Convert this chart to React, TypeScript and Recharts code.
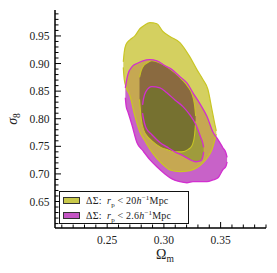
import React from "react";
import { ComposedChart, Area, XAxis, YAxis } from "recharts";

// Contour outlines: for each Omega_m, the sigma_8 range [lo, hi]
const magentaOuterX = [0.2660, 0.2668, 0.2682, 0.2718, 0.2762, 0.2815, 0.2876, 0.2938, 0.3009, 0.3071, 0.3141, 0.3203, 0.3256, 0.3318, 0.3380, 0.3432, 0.3477, 0.3521, 0.3547, 0.3557];
const magentaOuterLo = [0.838, 0.822, 0.813, 0.789, 0.757, 0.742, 0.726, 0.713, 0.700, 0.691, 0.686, 0.684, 0.686, 0.686, 0.686, 0.689, 0.693, 0.708, 0.714, 0.722];
const magentaOuterHi = [0.856, 0.866, 0.880, 0.894, 0.900, 0.905, 0.907, 0.905, 0.896, 0.889, 0.876, 0.865, 0.847, 0.827, 0.804, 0.776, 0.762, 0.747, 0.738, 0.730];

const magentaInnerX = [0.2812, 0.2820, 0.2841, 0.2894, 0.2965, 0.3026, 0.3097, 0.3168, 0.3229, 0.3282, 0.3327, 0.3344, 0.3350];
const magentaInnerLo = [0.810, 0.800, 0.784, 0.771, 0.757, 0.749, 0.740, 0.733, 0.726, 0.722, 0.724, 0.732, 0.740];
const magentaInnerHi = [0.825, 0.836, 0.849, 0.858, 0.856, 0.847, 0.834, 0.822, 0.807, 0.789, 0.765, 0.755, 0.748];

const oliveOuterX = [0.2642, 0.2650, 0.2665, 0.2700, 0.2744, 0.2788, 0.2832, 0.2876, 0.2938, 0.2991, 0.3053, 0.3141, 0.3229, 0.3291, 0.3344, 0.3388, 0.3424, 0.3450, 0.3462];
const oliveOuterLo = [0.893, 0.872, 0.858, 0.842, 0.805, 0.776, 0.760, 0.745, 0.728, 0.717, 0.707, 0.704, 0.706, 0.711, 0.720, 0.731, 0.744, 0.762, 0.772];
const oliveOuterHi = [0.903, 0.920, 0.934, 0.943, 0.950, 0.963, 0.970, 0.974, 0.972, 0.958, 0.949, 0.938, 0.912, 0.889, 0.871, 0.853, 0.816, 0.789, 0.778];

const oliveInnerX = [0.2785, 0.2800, 0.2825, 0.2850, 0.2894, 0.2965, 0.3026, 0.3097, 0.3159, 0.3212, 0.3247, 0.3270, 0.3280];
const oliveInnerLo = [0.835, 0.800, 0.778, 0.769, 0.760, 0.749, 0.744, 0.740, 0.740, 0.744, 0.751, 0.770, 0.795];
const oliveInnerHi = [0.875, 0.887, 0.897, 0.901, 0.905, 0.901, 0.894, 0.883, 0.871, 0.858, 0.845, 0.825, 0.805];

// axes
const xMajorTicks = [0.25, 0.3, 0.35];
const yMajorTicks = [0.65, 0.7, 0.75, 0.8, 0.85, 0.9, 0.95];
const xTicks = Array.from({ length: 19 }, (_, i) => +(0.21 + i * 0.01).toFixed(2));
const yTicks = Array.from({ length: 39 }, (_, i) => +(0.61 + i * 0.01).toFixed(2));

const legendLabels = ["20", "2.6"];

const contours = [
  { key: "magentaOuter", x: magentaOuterX, lo: magentaOuterLo, hi: magentaOuterHi },
  { key: "magentaInner", x: magentaInnerX, lo: magentaInnerLo, hi: magentaInnerHi },
  { key: "oliveOuter", x: oliveOuterX, lo: oliveOuterLo, hi: oliveOuterHi },
  { key: "oliveInner", x: oliveInnerX, lo: oliveInnerLo, hi: oliveInnerHi },
];

// one table keyed on x, with [null, null] where a contour has no point
const rowMap = new Map<number, any>();
contours.forEach((c) =>
  c.x.forEach((xv, i) => {
    const row = rowMap.get(xv) ?? { x: xv };
    row[c.key] = [c.lo[i], c.hi[i]];
    rowMap.set(xv, row);
  })
);
const tableData = [...rowMap.values()]
  .sort((a, b) => a.x - b.x)
  .map((r) => {
    contours.forEach((c) => {
      if (!r[c.key]) r[c.key] = [null, null];
    });
    return r;
  });

const FONT = "'Liberation Serif', serif";
const MAGENTA_LINE = "#d22ed0";
const OLIVE_LINE = "#c9c625";

const isMajor = (v: number, list: number[]) => list.some((m) => Math.abs(m - v) < 1e-6);

const BottomTick = ({ x, y, payload }: any) => {
  const major = isMajor(payload.value, xMajorTicks);
  return (
    <g>
      <line x1={x} x2={x} y1={y} y2={y - (major ? 6 : 3.5)} stroke="#000" strokeWidth={1} />
      {major && (
        <text x={x} y={y + 16} textAnchor="middle" fontFamily={FONT} fontSize={11.5} fill="#222">
          {payload.value.toFixed(2)}
        </text>
      )}
    </g>
  );
};

const TopTick = ({ x, y, payload }: any) => {
  const major = isMajor(payload.value, xMajorTicks);
  return <line x1={x} x2={x} y1={y} y2={y + (major ? 6 : 3.5)} stroke="#000" strokeWidth={1} />;
};

const LeftTick = ({ x, y, payload }: any) => {
  const major = isMajor(payload.value, yMajorTicks);
  return (
    <g>
      <line x1={x} x2={x + (major ? 6 : 3.5)} y1={y} y2={y} stroke="#000" strokeWidth={1} />
      {major && (
        <text x={x - 5.5} y={y + 4} textAnchor="end" fontFamily={FONT} fontSize={11.5} fill="#222">
          {payload.value.toFixed(2)}
        </text>
      )}
    </g>
  );
};

const RightTick = ({ x, y, payload }: any) => {
  const major = isMajor(payload.value, yMajorTicks);
  return <line x1={x} x2={x - (major ? 6 : 3.5)} y1={y} y2={y} stroke="#000" strokeWidth={1} />;
};

const axisLine = { stroke: "#000", strokeWidth: 1.5 };

const LegendRow = ({ color, edge, value }: { color: string; edge: string; value: string }) => (
  <div style={{ display: "flex", alignItems: "center", height: 15 }}>
    <div
      style={{
        width: 15,
        height: 5,
        background: color,
        border: `1.2px solid ${edge}`,
        marginLeft: 3,
        marginRight: 6,
      }}
    />
    <span style={{ fontFamily: FONT, fontSize: 10, color: "#222", whiteSpace: "nowrap", letterSpacing: 0.2 }}>
      ΔΣ:&nbsp; <i>r</i>
      <sub style={{ fontSize: 7, lineHeight: 0 }}>p</sub> &lt; {value}
      <i>h</i>
      <sup style={{ fontSize: 7, lineHeight: 0 }}>−1</sup>Mpc
    </span>
  </div>
);

export default function App() {
  return (
    <div style={{ position: "absolute", left: 0, top: 0, width: 277, height: 273, background: "#fff" }}>
      <ComposedChart
        width={277}
        height={273}
        data={tableData}
        margin={{ top: 10, right: 11, bottom: 0, left: 0 }}
      >
        <XAxis
          dataKey="x"
          type="number"
          domain={[0.204, 0.39]}
          allowDataOverflow
          ticks={xTicks}
          interval={0}
          tickSize={0}
          tickMargin={0}
          tickLine={false}
          tick={<BottomTick />}
          axisLine={axisLine}
          height={45}
          label={() => (
            <text x={165} y={259} textAnchor="middle" fontFamily={FONT} fontSize={14} fill="#222">
              Ω<tspan fontSize={9.5} dy={3}>m</tspan>
            </text>
          )}
        />
        <XAxis
          xAxisId="top"
          orientation="top"
          dataKey="x"
          type="number"
          domain={[0.204, 0.39]}
          allowDataOverflow
          ticks={xTicks}
          interval={0}
          tickSize={0}
          tickMargin={0}
          tickLine={false}
          tick={<TopTick />}
          axisLine={axisLine}
          height={0}
        />
        <YAxis
          type="number"
          domain={[0.602, 0.997]}
          allowDataOverflow
          ticks={yTicks}
          interval={0}
          tickSize={0}
          tickMargin={0}
          tickLine={false}
          tick={<LeftTick />}
          axisLine={axisLine}
          width={55}
          label={() => (
            <text
              x={17}
              y={119}
              transform="rotate(-90 17 119)"
              textAnchor="middle"
              fontFamily={FONT}
              fontSize={14}
              fill="#222"
            >
              <tspan fontStyle="italic">σ</tspan>
              <tspan fontSize={9.5} dy={3}>8</tspan>
            </text>
          )}
        />
        <YAxis
          yAxisId="right"
          orientation="right"
          type="number"
          domain={[0.602, 0.997]}
          allowDataOverflow
          ticks={yTicks}
          interval={0}
          tickSize={0}
          tickMargin={0}
          tickLine={false}
          tick={<RightTick />}
          axisLine={axisLine}
          width={0}
        />

        {/* fills */}
        <Area dataKey="magentaOuter" type="monotone" connectNulls fill="#c862c8" fillOpacity={1} stroke="none" isAnimationActive={false} />
        <Area dataKey="oliveOuter" type="monotone" connectNulls fill="#c6c02b" fillOpacity={0.75} stroke="none" isAnimationActive={false} />
        <Area dataKey="oliveInner" type="monotone" connectNulls fill="#7f5f3d" fillOpacity={0.85} stroke="none" isAnimationActive={false} />
        <Area dataKey="magentaInner" type="monotone" connectNulls fill="#4f8010" fillOpacity={0.32} stroke="none" isAnimationActive={false} />

        {/* outlines */}
        <Area dataKey="oliveOuter" type="monotone" connectNulls fill="none" stroke={OLIVE_LINE} strokeWidth={1.2} isAnimationActive={false} />
        <Area dataKey="oliveInner" type="monotone" connectNulls fill="none" stroke={OLIVE_LINE} strokeWidth={1.1} isAnimationActive={false} />
        <Area dataKey="magentaOuter" type="monotone" connectNulls fill="none" stroke={MAGENTA_LINE} strokeWidth={1.3} isAnimationActive={false} />
        <Area dataKey="magentaInner" type="monotone" connectNulls fill="none" stroke={MAGENTA_LINE} strokeWidth={1.3} isAnimationActive={false} />
      </ComposedChart>

      <div
        style={{
          position: "absolute",
          left: 59,
          top: 191,
          width: 128,
          height: 30,
          border: "1.3px solid #111",
          background: "#fff",
          paddingTop: 1,
        }}
      >
        <LegendRow color="#c8c84a" edge="#333" value={legendLabels[0]} />
        <LegendRow color="#c455c4" edge="#333" value={legendLabels[1]} />
      </div>
    </div>
  );
}
